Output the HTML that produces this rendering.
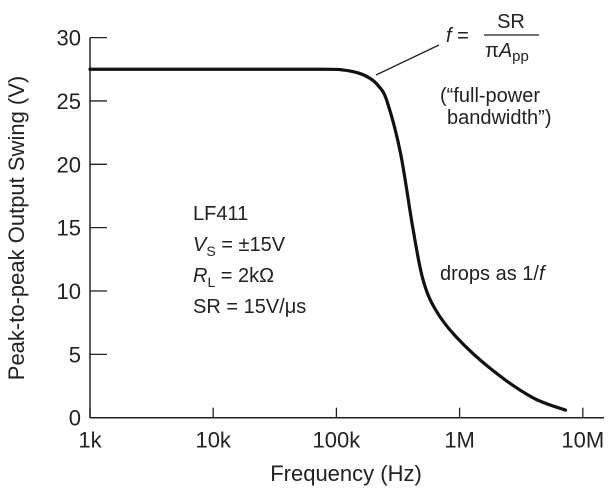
<!DOCTYPE html>
<html><head><meta charset="utf-8"><style>
body{margin:0;background:#fff;}
svg{display:block;font-family:"Liberation Sans",Arial,sans-serif;fill:#222;}
</style></head><body>
<svg width="609" height="493" viewBox="0 0 609 493">
<g id="axes"></g>
<g id="marks"></g>
<text x="24" y="228" font-size="22" text-anchor="middle" transform="rotate(-90 24 228)">Peak-to-peak Output Swing  (V)</text>
<text x="346" y="481" font-size="22" text-anchor="middle">Frequency (Hz)</text>
<g font-size="20">
<text x="193" y="220">LF411</text>
<text x="193" y="251"><tspan font-style="italic">V</tspan><tspan font-size="14" dy="5">S</tspan><tspan dy="-5"> = ±15V</tspan></text>
<text x="193" y="282"><tspan font-style="italic">R</tspan><tspan font-size="14" dy="5">L</tspan><tspan dy="-5"> = 2kΩ</tspan></text>
<text x="193" y="313">SR = 15V/μs</text>
</g>
<g font-size="20">
<text x="446" y="42"><tspan font-style="italic">f</tspan> =</text>
<text x="511" y="28" text-anchor="middle">SR</text>
<line x1="484" y1="35" x2="539" y2="35" stroke="#222" stroke-width="1.3"/>
<text x="485" y="57"><tspan>π</tspan><tspan font-style="italic">A</tspan><tspan font-size="15" dy="4">pp</tspan></text>
<line x1="376" y1="75" x2="439" y2="45" stroke="#222" stroke-width="1.3"/>
<text x="440" y="102">(“full-power</text>
<text x="447" y="124">bandwidth”)</text>
<text x="440" y="280">drops as 1/<tspan font-style="italic">f</tspan></text>
</g>
</svg>
<script>
const freqLog = [3, 4, 4.9, 5.05, 5.18, 5.27, 5.34, 5.41, 5.52, 5.62, 5.7, 5.8, 5.97, 6.26, 6.59, 6.86];
const swing = [27.5, 27.5, 27.5, 27.45, 27.2, 26.8, 26.2, 25, 20.9, 15, 11, 8.6, 6.4, 3.8, 1.6, 0.6];
const yTicks = [0, 5, 10, 15, 20, 25, 30];
const xTickLog = [3, 4, 5, 6, 7];
const xTickLabels = ["1k", "10k", "100k", "1M", "10M"];
const NS = "http://www.w3.org/2000/svg";
const X = l => 90 + (l - 3) * 123.2;
const Y = v => 417.7 - v * 12.67;
const axes = document.getElementById('axes');
function mk(tag, attrs, parent){const e=document.createElementNS(NS,tag);for(const k in attrs)e.setAttribute(k,attrs[k]);parent.appendChild(e);return e;}
const xa = mk('line',{x1:90,y1:Y(0),x2:604,y2:Y(0),stroke:'#222','stroke-width':1.5},axes);


const ya = mk('line',{x1:90,y1:Y(0),x2:90,y2:Y(30),stroke:'#222','stroke-width':1.5},axes);


yTicks.forEach(v=>{
  const t=mk('line',{x1:90,y1:Y(v),x2:107,y2:Y(v),stroke:'#222','stroke-width':1.3},axes);
  
  
  const l=mk('text',{x:81,y:Y(v)+8,'font-size':22,'text-anchor':'end'},axes);
  l.textContent=v;
  
  
});
xTickLog.forEach((lg,i)=>{
  const t=mk('line',{x1:X(lg),y1:Y(0),x2:X(lg),y2:Y(0)-10,stroke:'#222','stroke-width':1.3},axes);
  
  
  const l=mk('text',{x:X(lg),y:Y(0)+30,'font-size':22,'text-anchor':'middle'},axes);
  l.textContent=xTickLabels[i];
  
  
});
const pts = freqLog.map((f,i)=>[X(f),Y(swing[i])]);
let d = 'M'+pts[0][0]+','+pts[0][1];
for(let i=1;i<pts.length;i++){
  const p0=pts[Math.max(0,i-2)],p1=pts[i-1],p2=pts[i],p3=pts[Math.min(pts.length-1,i+1)];
  const c1=[p1[0]+(p2[0]-p0[0])/6,p1[1]+(p2[1]-p0[1])/6];
  const c2=[p2[0]-(p3[0]-p1[0])/6,p2[1]-(p3[1]-p1[1])/6];
  d+=' C'+c1[0]+','+c1[1]+' '+c2[0]+','+c2[1]+' '+p2[0]+','+p2[1];
}
const path = mk('path',{d:d,fill:'none',stroke:'#111','stroke-width':3.2,'stroke-linecap':'round','stroke-linejoin':'round'},document.getElementById('marks'));


</script>
</body></html>
